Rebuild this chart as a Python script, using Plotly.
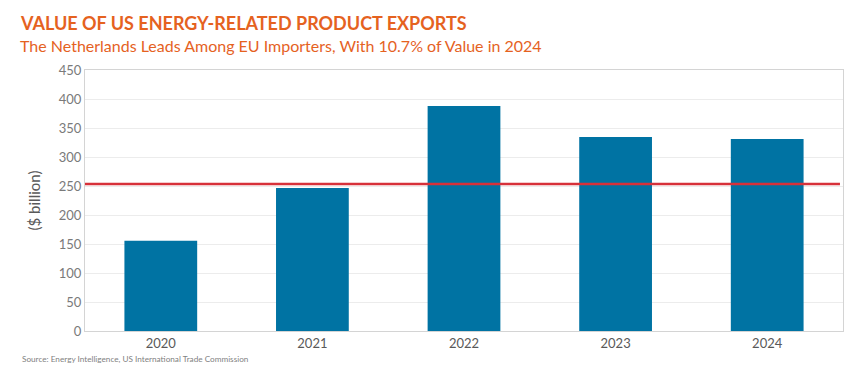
import plotly.graph_objects as go

years = ["2020", "2021", "2022", "2023", "2024"]
values = [155.5, 246.5, 388, 334.5, 331]
reference_level = 253.5
title = "VALUE OF US ENERGY-RELATED PRODUCT EXPORTS"
subtitle = "The Netherlands Leads Among EU Importers, With 10.7% of Value in 2024"
source = "Source: Energy Intelligence, US International Trade Commission"

fig = go.Figure()
fig.add_trace(go.Bar(x=years, y=values, marker_color="#0073A3", marker_line_width=0,
                     showlegend=False))
fig.add_shape(type="line", xref="x domain", yref="y", x0=0, x1=0.996,
              y0=reference_level, y1=reference_level,
              line=dict(color="#D7313A", width=2.6))

fig.update_layout(
    width=865, height=385,
    margin=dict(l=77, r=30, t=62, b=62, autoexpand=False),
    paper_bgcolor="white", plot_bgcolor="white",
    font=dict(family="Lato", color="#595959"),
    bargap=0.52,
    annotations=[
        dict(text="<b>" + title + "</b>", xref="paper", yref="paper", x=-0.088, y=1.0,
             xanchor="left", yanchor="bottom", yshift=34, showarrow=False,
             font=dict(size=18, color="#E5621F", family="Lato")),
        dict(text=subtitle, xref="paper", yref="paper", x=-0.088, y=1.0,
             xanchor="left", yanchor="bottom", yshift=13, showarrow=False,
             font=dict(size=16, color="#E5621F", family="Lato")),
        dict(text=source, xref="paper", yref="paper", x=-0.086, y=0,
             xanchor="left", yanchor="top", yshift=-21, showarrow=False,
             font=dict(size=8.2, color="#7f7f7f", family="Lato")),
    ],
)
fig.update_yaxes(range=[0, 450], dtick=50, showgrid=True, gridcolor="#ECECEC",
                 gridwidth=1, showline=True, linecolor="#D4D4D4", mirror=True,
                 ticks="", tickfont=dict(size=13, color="#7a7a7a"),
                 title=dict(text="($ billion)", font=dict(size=15, color="#595959"),
                            standoff=14),
                 zeroline=False)
fig.update_xaxes(showline=True, linecolor="#D4D4D4", mirror=True, ticks="",
                 tickfont=dict(size=13, color="#595959"))

fig.write_html("out.html")
